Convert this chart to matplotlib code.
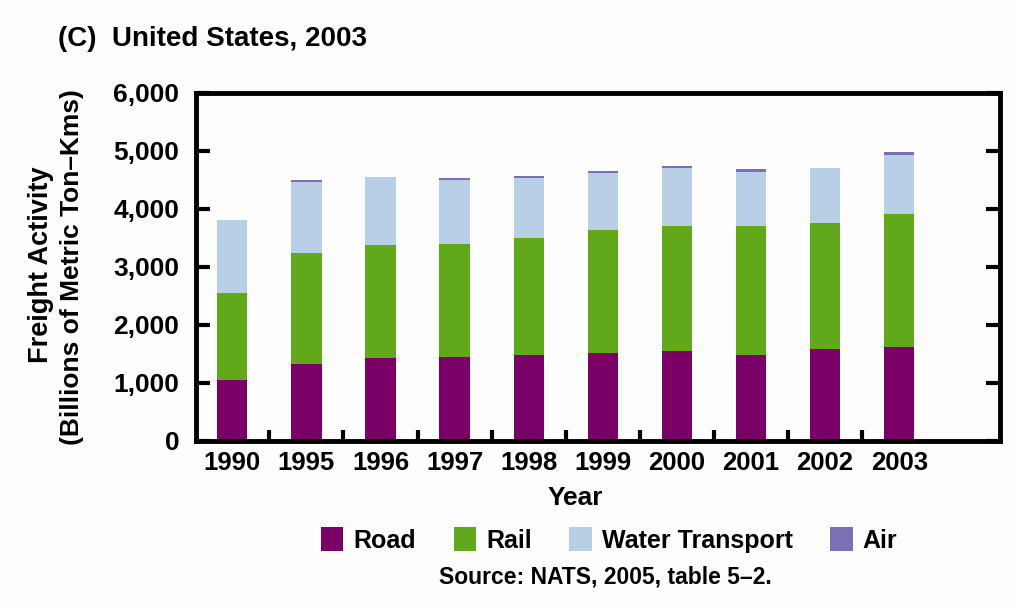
import matplotlib
matplotlib.use("Agg")
import matplotlib.pyplot as plt
import numpy as np
from matplotlib.patches import Patch

plt.rcParams['font.family'] = ['Liberation Sans', 'DejaVu Sans']
plt.rcParams['font.weight'] = 'bold'

years = ["1990", "1995", "1996", "1997", "1998", "1999", "2000", "2001", "2002", "2003"]
road = [1055, 1326, 1430, 1447, 1487, 1516, 1545, 1487, 1585, 1614]
rail = [1500, 1919, 1947, 1954, 2018, 2115, 2161, 2219, 2179, 2294]
water = [1256, 1228, 1176, 1095, 1037, 981, 1009, 940, 951, 1025]
air = [0, 30, 0, 32, 28, 38, 32, 45, 0, 48]

labels = ["Road", "Rail", "Water Transport", "Air"]
colors = ["#7a0068", "#62a81b", "#b9cfe5", "#7b70b4"]

fig = plt.figure(figsize=(10.15, 6.09), dpi=100, facecolor="#fdfdfd")
ax = fig.add_axes([0.1931, 0.2759, 0.7921, 0.5714], facecolor="#fdfdfd")

x = np.arange(len(years))
w = 0.41
bottom = np.zeros(len(years))
for vals, c in zip([road, rail, water, air], colors):
    ax.bar(x, vals, w, bottom=bottom, color=c, linewidth=0)
    bottom += np.array(vals)

ax.set_xlim(-0.49, 10.36)
ax.set_ylim(0, 6000)
ax.set_yticks(range(0, 6001, 1000))
ax.set_yticklabels([f"{v:,}" for v in range(0, 6001, 1000)], fontsize=19)
ax.tick_params(axis="y", direction="in", length=10, width=3, right=True, pad=12)
ax.set_xticks(x[:-1] + 0.5)
ax.set_xticklabels([])
ax.tick_params(axis="x", direction="in", length=8, width=3)
for s in ax.spines.values():
    s.set_linewidth(3.5)

for i, yr in enumerate(years):
    ax.text(i, -170, yr, ha="center", va="top", fontsize=18.5, fontweight="bold")

fig.text(0.567, 0.182, "Year", ha="center", va="center", fontsize=19, fontweight="bold")
fig.text(0.057, 0.936, "(C)  United States, 2003", ha="left", va="center", fontsize=20, fontweight="bold")
fig.text(0.040, 0.566, "Freight Activity", rotation=90, ha="center", va="center", fontsize=19.5, fontweight="bold")
fig.text(0.071, 0.562, "(Billions of Metric Ton\u2013Kms)", rotation=90, ha="center", va="center", fontsize=19, fontweight="bold")

handles = [Patch(facecolor=c, edgecolor="none") for c in colors]
fig.legend(handles, labels, loc="center", bbox_to_anchor=(0.600, 0.113), ncol=4, frameon=False,
           fontsize=18, handlelength=0.9, handleheight=1.1, columnspacing=1.5, handletextpad=0.4)
fig.text(0.596, 0.052, "Source: NATS, 2005, table 5\u20132.", ha="center", va="center", fontsize=16.5, fontweight="bold")

fig.savefig("out.png", dpi=100, facecolor=fig.get_facecolor())
